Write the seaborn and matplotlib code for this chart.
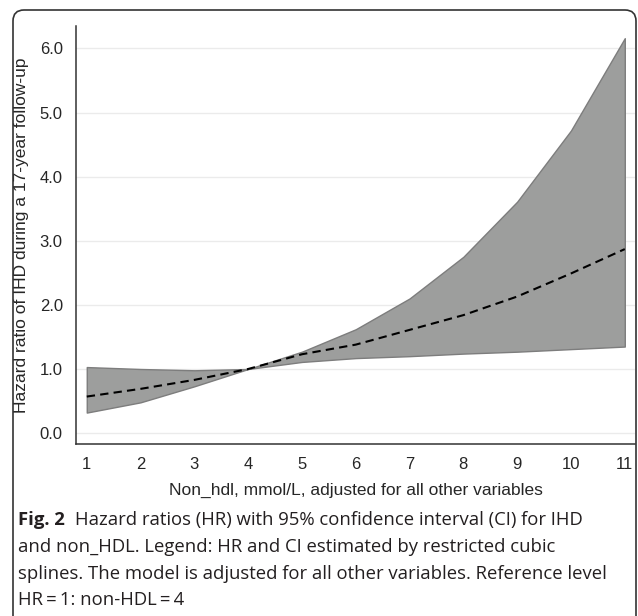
import matplotlib
matplotlib.use("Agg")
import matplotlib.pyplot as plt
import matplotlib.patches as mpatches
import matplotlib.transforms as mtransforms
import pandas as pd
import seaborn as sns

# values
non_hdl = [1, 2, 3, 4, 5, 6, 7, 8, 9, 10, 11]
hazard_ratio = [0.57, 0.69, 0.83, 1.0, 1.23, 1.38, 1.61, 1.84, 2.13, 2.49, 2.87]
ci_lower = [0.32, 0.48, 0.73, 1.0, 1.11, 1.17, 1.20, 1.24, 1.27, 1.31, 1.35]
ci_upper = [1.03, 1.00, 0.98, 1.0, 1.27, 1.62, 2.10, 2.75, 3.61, 4.72, 6.16]
y_ticks = [0, 1, 2, 3, 4, 5, 6]

XLABEL = "Non_hdl, mmol/L, adjusted for all other variables"
YLABEL = "Hazard ratio of IHD during a 17-year follow-up"
CAPTION = [
    "Hazard ratios (HR) with 95% confidence interval (CI) for IHD",
    "and non_HDL. Legend: HR and CI estimated by restricted cubic",
    "splines. The model is adjusted for all other variables. Reference level",
    "HR\u2009=\u20091: non-HDL\u2009=\u20094",
]

df = pd.DataFrame({"x": non_hdl, "hr": hazard_ratio, "lo": ci_lower, "hi": ci_upper})

sns.set_style("white")
plt.rcParams["font.family"] = ["Liberation Sans", "DejaVu Sans"]

W, H = 638, 616
fig = plt.figure(figsize=(W / 100, H / 100), dpi=100)
ax = fig.add_axes([76 / W, 1 - 444 / H, (635 - 76) / W, (444 - 26) / H])

ax.fill_between(df["x"], df["lo"], df["hi"], facecolor="#9d9e9d",
                edgecolor="#7d7d7d", linewidth=1.0, zorder=2)
sns.lineplot(data=df, x="x", y="hr", ax=ax, color="black", linewidth=1.5,
             zorder=3)
ax.lines[-1].set_dashes((4, 2.5))

ax.set_xlim(0.8, 11.19)
ax.set_ylim(-0.17, 6.35)
ax.set_xticks(non_hdl)
ax.set_yticks(y_ticks)
ax.set_yticklabels([f"{v:.1f}" for v in y_ticks])
ax.yaxis.grid(True, color="#ebebeb", linewidth=1.0, zorder=0)
ax.xaxis.grid(False)
ax.set_axisbelow(True)

for side in ["top", "right"]:
    ax.spines[side].set_visible(False)
for side in ["left", "bottom"]:
    ax.spines[side].set_color("#333333")
    ax.spines[side].set_linewidth(1.1)
ax.tick_params(axis="both", direction="out", length=5.5, width=1.0,
               color="#333333", labelsize=12, pad=4)

ax.set_xlabel(XLABEL, fontsize=12.5)
ax.set_ylabel(YLABEL, fontsize=12.5)
ax.xaxis.set_label_coords(0.5, (444 - 490) / (444 - 26))
ax.xaxis.label.set_va("center")
ax.yaxis.set_label_coords((22 - 76) / (635 - 76), 0.5)
ax.yaxis.label.set_va("center")

# rounded frame around the figure
frame = mpatches.FancyBboxPatch((13, -30), 623, 30 + H - 10,
                                boxstyle="round,pad=0,rounding_size=11",
                                transform=mtransforms.IdentityTransform(),
                                facecolor="none", edgecolor="#333333",
                                linewidth=1.2)
fig.patches.append(frame)

# caption
cap_font = ["Open Sans", "DejaVu Sans"]
cap_size = 13.3
line_y = [520, 547, 574, 600]
renderer = fig.canvas.get_renderer()
t = fig.text(18 / W, 1 - line_y[0] / H, "Fig. 2", fontsize=cap_size,
             fontweight="bold", family=cap_font, va="center", color="#231f20")
bb = t.get_window_extent(renderer=renderer)
fig.text((bb.x1 + 10) / W, 1 - line_y[0] / H, CAPTION[0], fontsize=cap_size,
         family=cap_font, va="center", color="#231f20")
for txt, yy in zip(CAPTION[1:], line_y[1:]):
    fig.text(18 / W, 1 - yy / H, txt, fontsize=cap_size, family=cap_font,
             va="center", color="#231f20")

fig.savefig("out.png", dpi=100)
